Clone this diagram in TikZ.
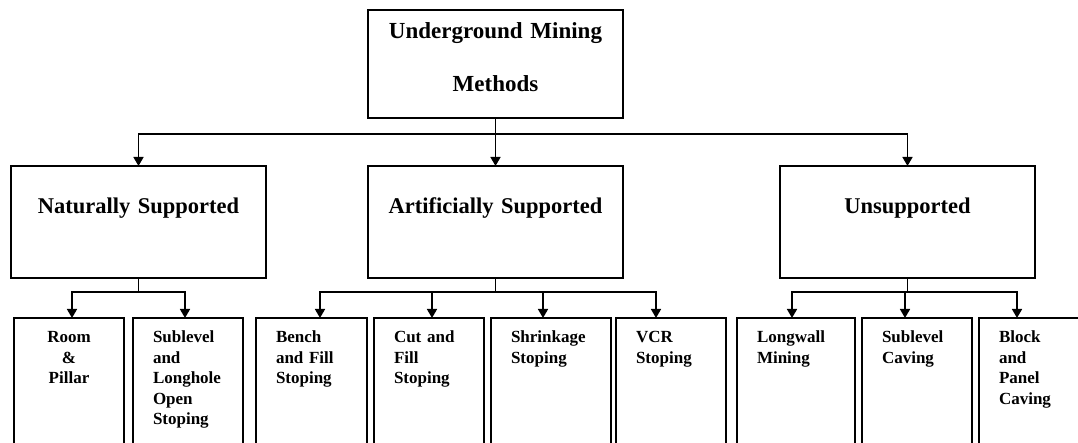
\documentclass[tikz,border=0pt]{standalone}
\usepackage{fontspec}
\setmainfont{Liberation Serif}
\usetikzlibrary{arrows.meta,positioning}
\tikzset{
  head/.style={rectangle, draw, line width=1.9pt, outer sep=0pt, inner sep=0pt, align=center,
               text width=255pt, text height=29pt, text depth=79pt,
               font=\bfseries\fontsize{23}{53}\selectfont},
  group/.style={rectangle, draw, line width=1.9pt, outer sep=0pt, inner sep=0pt, align=center,
                text width=255pt, text height=48pt, text depth=64pt,
                font=\bfseries\fontsize{22.5}{27}\selectfont},
  leaf/.style={rectangle, draw, line width=1.9pt, outer sep=0pt, inner xsep=20pt, inner ysep=0pt,
               align=left, text width=#1, text height=25pt, text depth=120pt,
               font=\bfseries\fontsize{17}{20.5}\selectfont},
  leaf/.default=70pt,
  arr/.style={-{Triangle[length=9pt,width=10pt]}, line width=1.6pt},
}
\begin{document}
\begin{tikzpicture}[x=1pt, y=1pt]
        \useasboundingbox (0,0) rectangle (1078,443);
        \clip (0,0) rectangle (1078,443);
        \node[head, anchor=north] (root) at (495.5,433) {Underground Mining\\Methods};
        \node[group, below=48pt of root] (art) {Artificially Supported};
        \node[group, left=102pt of art] (nat) {Naturally Supported};
        \node[group, right=157pt of art] (uns) {Unsupported};
        \node[leaf, align=center, anchor=north west] (room) at (14,125) {Room\\\&\\Pillar};
        \node[leaf, right=9pt of room] (sub) {Sublevel\\and\\Longhole\\Open\\Stoping};
        \node[leaf=71pt, right=13pt of sub] (bench) {Bench\\and Fill\\Stoping};
        \node[leaf, right=7pt of bench] (cut) {Cut and\\Fill\\Stoping};
        \node[leaf=80pt, right=7pt of cut] (shrink) {Shrinkage\\Stoping};
        \node[leaf, right=5pt of shrink] (vcr) {VCR\\Stoping};
        \node[leaf=78pt, right=11pt of vcr] (long) {Longwall\\Mining};
        \node[leaf, right=7pt of long] (subcav) {Sublevel\\Caving};
        \node[leaf, right=7pt of subcav] (block) {Block\\and\\Panel\\Caving};
        \foreach \c in {nat,art,uns}
          \draw[arr] (root.south) -- ++(0,-16pt) -| (\c.north);
        \foreach \p/\c/\dx in {nat/room/3pt, nat/sub/-3pt, art/bench/8.5pt, art/cut/3pt, art/shrink/-8pt,
                               art/vcr/-15pt, uns/long/-4pt, uns/subcav/-12pt, uns/block/-17pt}
          \draw[arr] (\p.south) -- ++(0,-14pt) -| ([xshift=\dx]\c.north);
      \end{tikzpicture}
\end{document}
